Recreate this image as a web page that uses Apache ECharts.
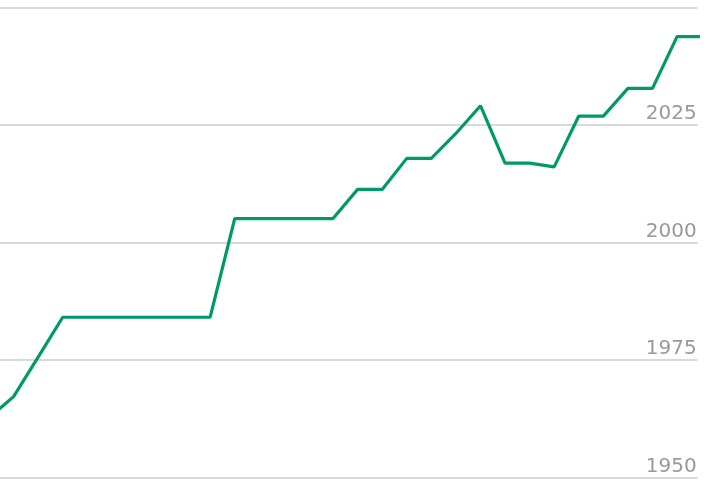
<!DOCTYPE html>
<html>
<head>
<meta charset="utf-8">
<script src="https://cdn.jsdelivr.net/npm/echarts@6/dist/echarts.min.js"></script>
<style>
html,body{margin:0;padding:0;background:#fff;}
#chart{width:720px;height:496px;}
</style>
</head>
<body>
<div id="chart"></div>
<script>
// period positions (evenly spaced observations)
var periods = [0,1,2,3,4,5,6,7,8,9,10,11,12,13,14,15,16,17,18,19,20,21,22,23,24,25,26,27,28,29];
// series values
var values = [1962.7, 1967.2, 1975.6, 1984.1, 1984.1, 1984.1, 1984.1, 1984.1, 1984.1, 1984.1,
              2005.1, 2005.1, 2005.1, 2005.1, 2005.1, 2011.3, 2011.3, 2017.9, 2017.9, 2023.2,
              2029.1, 2016.9, 2016.9, 2016.1, 2026.9, 2026.9, 2032.8, 2032.8, 2043.8, 2043.8];
// y tick labels
var yTicks = [1950, 1975, 2000, 2025, 2050];

var chart = echarts.init(document.getElementById('chart'), null, {renderer: 'canvas'});
chart.setOption({
  animation: false,
  grid: {left: 0, right: 22.3, top: 7.5, bottom: 18.5, containLabel: false},
  xAxis: {
    type: 'value',
    min: 0.448,
    max: 28.84,
    show: false
  },
  yAxis: {
    type: 'value',
    position: 'right',
    min: yTicks[0],
    max: yTicks[yTicks.length - 1],
    interval: yTicks[1] - yTicks[0],
    axisLine: {show: false},
    axisTick: {show: false},
    splitLine: {show: true, lineStyle: {color: '#cccccc', width: 1.5}},
    axisLabel: {
      inside: true,
      showMaxLabel: false,
      margin: 1,
      color: '#999999',
      fontFamily: 'DejaVu Sans',
      fontSize: 20,
      verticalAlign: 'bottom',
      padding: [0, 0, 1, 0],
      formatter: function (v) { return String(v); }
    }
  },
  series: [{
    type: 'line',
    data: periods.map(function (p, i) { return [p, values[i]]; }),
    symbol: 'none',
    clip: true,
    lineStyle: {color: '#009a68', width: 3.2},
    itemStyle: {color: '#009a68'}
  }]
});
</script>
</body>
</html>
